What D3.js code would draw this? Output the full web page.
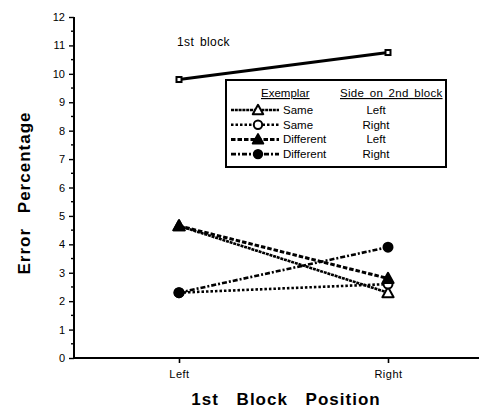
<!DOCTYPE html>
<html>
<head>
<meta charset="utf-8">
<script src="https://cdn.jsdelivr.net/npm/d3@7"></script>
<style>
  body { margin: 0; background: #fff; }
  svg { display: block; font-family: "Liberation Sans", Arial, sans-serif; }
</style>
</head>
<body>
<div id="chart"></div>
<script>
// chart values
const positions = ["Left", "Right"];
const blockValues = [9.8, 10.75];
const sameLeft = [4.65, 2.3];
const sameRight = [2.3, 2.6];
const diffLeft = [4.65, 2.8];
const diffRight = [2.3, 3.9];
const yTicks = d3.range(0, 13);

const seriesList = [
    { exemplar: "Same", side: "Left", values: sameLeft, marker: "triangle", filled: false, dash: "3,0.8", width: 2.6 },
    { exemplar: "Same", side: "Right", values: sameRight, marker: "circle", filled: false, dash: "2.5,2", width: 2.6 },
    { exemplar: "Different", side: "Left", values: diffLeft, marker: "triangle", filled: true, dash: "4.5,2", width: 3 },
    { exemplar: "Different", side: "Right", values: diffRight, marker: "circle", filled: true, dash: "5,2,2,2", width: 2.6 }
];

const width = 488, height = 412;
const svg = d3.select("#chart").append("svg")
    .attr("width", width)
    .attr("height", height);

const x = d3.scalePoint().domain(positions).range([179, 388]);
const y = d3.scaleLinear().domain([0, 12]).range([358, 17]);
const axisLeftX = 74, axisRightX = 479;

const line = d3.line()
    .x((d, i) => x(positions[i]))
    .y(d => y(d));

// axes
const yAxis = d3.axisLeft(y).tickValues(yTicks).tickSize(5).tickPadding(4).tickFormat(d3.format("d"));
const gy = svg.append("g").attr("transform", `translate(${axisLeftX},0)`).call(yAxis);
gy.select(".domain").remove();
gy.selectAll(".tick line").attr("stroke", "#000").attr("stroke-width", 1.4);
gy.selectAll(".tick text").attr("font-size", "11px").attr("fill", "#000");

// half-unit minor ticks
svg.append("g").selectAll("line")
    .data(d3.range(0.5, 12, 1))
    .enter().append("line")
    .attr("x1", axisLeftX - 3).attr("x2", axisLeftX)
    .attr("y1", d => y(d)).attr("y2", d => y(d))
    .attr("stroke", "#000").attr("stroke-width", 1.4);

svg.append("line")
    .attr("x1", axisLeftX).attr("x2", axisLeftX)
    .attr("y1", y(12)).attr("y2", y(0))
    .attr("stroke", "#000").attr("stroke-width", 2);

const xAxis = d3.axisBottom(x).tickSize(5).tickPadding(7);
const gx = svg.append("g").attr("transform", `translate(0,${y(0)})`).call(xAxis);
gx.select(".domain").remove();
gx.selectAll(".tick line").attr("stroke", "#000").attr("stroke-width", 1.6);
gx.selectAll(".tick text").attr("font-size", "11px").attr("fill", "#000").attr("letter-spacing", "0.5px");

svg.append("line")
    .attr("x1", axisLeftX - 1).attr("x2", axisRightX)
    .attr("y1", y(0)).attr("y2", y(0))
    .attr("stroke", "#000").attr("stroke-width", 2);

// axis titles
svg.append("text")
    .attr("transform", `translate(30,193) rotate(-90)`)
    .attr("text-anchor", "middle")
    .attr("font-size", "17px")
    .attr("font-weight", "bold")
    .attr("letter-spacing", "1px")
    .attr("word-spacing", "9px")
    .text("Error Percentage");

svg.append("text")
    .attr("x", 286).attr("y", 405)
    .attr("text-anchor", "middle")
    .attr("font-size", "17px")
    .attr("font-weight", "bold")
    .attr("letter-spacing", "1px")
    .attr("word-spacing", "12px")
    .text("1st Block Position");

// marker helper
function drawMarker(g, type, filled, cx, cy, size) {
    if (type === "circle") {
        g.append("circle")
            .attr("cx", cx).attr("cy", cy).attr("r", size)
            .attr("fill", filled ? "#000" : "#fff")
            .attr("stroke", "#000").attr("stroke-width", 2);
    } else if (type === "triangle") {
        const s = size * 1.25;
        g.append("path")
            .attr("d", `M${cx},${cy - s} L${cx + s},${cy + s * 0.8} L${cx - s},${cy + s * 0.8} Z`)
            .attr("fill", filled ? "#000" : "#fff")
            .attr("stroke", "#000").attr("stroke-width", 2)
            .attr("stroke-linejoin", "round");
    } else {
        g.append("rect")
            .attr("x", cx - size).attr("y", cy - size)
            .attr("width", size * 2).attr("height", size * 2)
            .attr("fill", "#fff")
            .attr("stroke", "#000").attr("stroke-width", 2);
    }
}

// 1st block line
const blockG = svg.append("g");
blockG.append("path")
    .datum(blockValues)
    .attr("d", line)
    .attr("fill", "none")
    .attr("stroke", "#000")
    .attr("stroke-width", 3);
blockValues.forEach((v, i) => drawMarker(blockG, "square", false, x(positions[i]), y(v), 2.5));

svg.append("text")
    .attr("x", 177).attr("y", 46)
    .attr("font-size", "12px")
    .attr("letter-spacing", "0.4px")
    .attr("word-spacing", "2px")
    .text("1st block");

// condition lines
const seriesG = svg.append("g");
seriesList.forEach(s => {
    seriesG.append("path")
        .datum(s.values)
        .attr("d", line)
        .attr("fill", "none")
        .attr("stroke", "#000")
        .attr("stroke-width", s.width)
        .attr("stroke-dasharray", s.dash);
});
seriesList.forEach(s => {
    s.values.forEach((v, i) => drawMarker(seriesG, s.marker, s.filled, x(positions[i]), y(v), 4.5));
});

// legend
const legend = svg.append("g");
legend.append("rect")
    .attr("x", 226).attr("y", 80)
    .attr("width", 220).attr("height", 87)
    .attr("fill", "#fff")
    .attr("stroke", "#000")
    .attr("stroke-width", 2);

legend.append("text")
    .attr("x", 261).attr("y", 97)
    .attr("font-size", "11.5px")
    .attr("text-decoration", "underline")
    .text("Exemplar");
legend.append("text")
    .attr("x", 340).attr("y", 97)
    .attr("font-size", "11.5px")
    .attr("word-spacing", "2px")
    .attr("letter-spacing", "0.3px")
    .attr("text-decoration", "underline")
    .text("Side on 2nd block");

seriesList.forEach((s, i) => {
    const ry = 110 + i * 14.7;
    legend.append("line")
        .attr("x1", 231).attr("x2", 279)
        .attr("y1", ry).attr("y2", ry)
        .attr("stroke", "#000")
        .attr("stroke-width", s.width)
        .attr("stroke-dasharray", s.dash);
    drawMarker(legend, s.marker, s.filled, 258, ry, 4.2);
    legend.append("text")
        .attr("x", 283).attr("y", ry + 4)
        .attr("font-size", "11.5px")
        .text(s.exemplar);
    legend.append("text")
        .attr("x", 376).attr("y", ry + 4)
        .attr("text-anchor", "middle")
        .attr("font-size", "11.5px")
        .text(s.side);
});
</script>
</body>
</html>
